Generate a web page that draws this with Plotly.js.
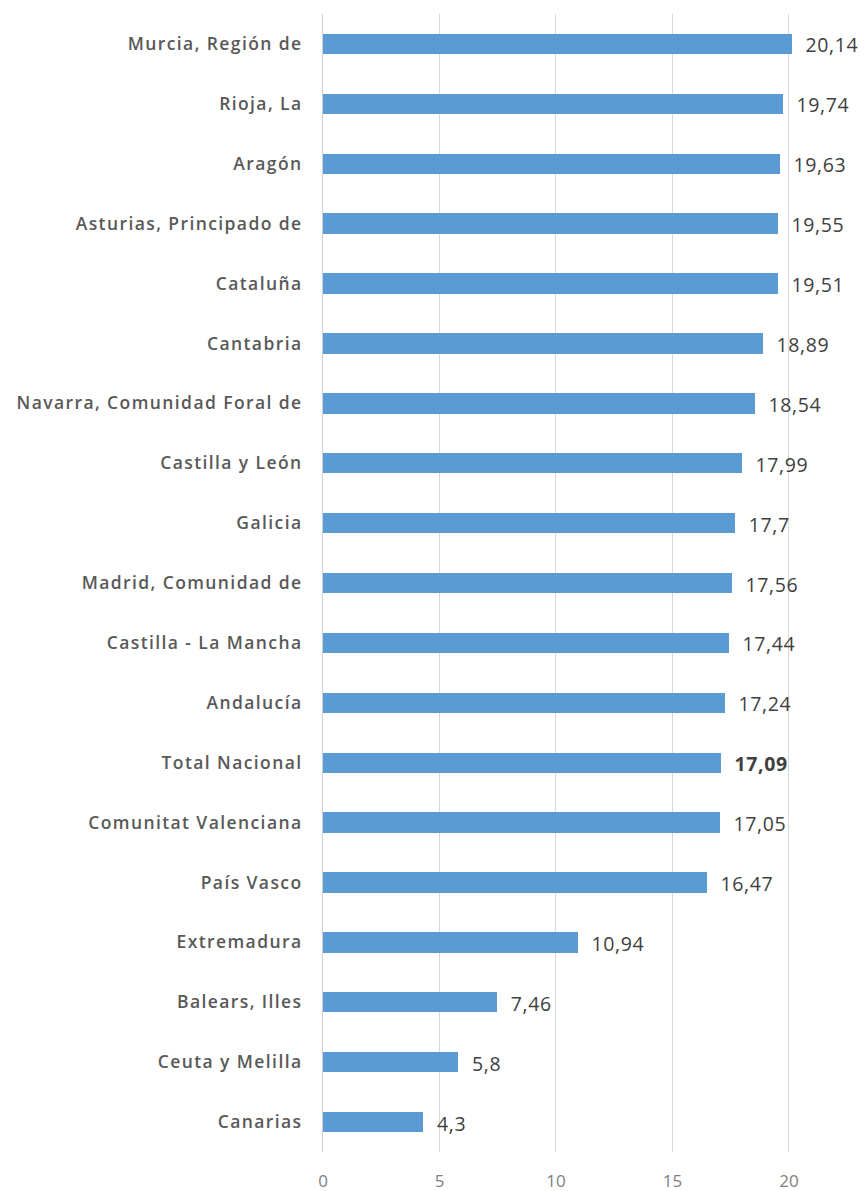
<!DOCTYPE html>
<html>
<head>
<meta charset="utf-8">
<script src="https://cdn.plot.ly/plotly-3.0.1.min.js"></script>
<style>
html,body{margin:0;padding:0;background:#fff;}
#chart{width:867px;height:1191px;}
#chart .ytick text{letter-spacing:1.4px;}
#chart .annotation-text{letter-spacing:0.6px;}
</style>
</head>
<body>
<div id="chart"></div>
<script>
const categories = ["Murcia, Región de","Rioja, La","Aragón","Asturias, Principado de","Cataluña","Cantabria","Navarra, Comunidad Foral de","Castilla y León","Galicia","Madrid, Comunidad de","Castilla - La Mancha","Andalucía","Total Nacional","Comunitat Valenciana","País Vasco","Extremadura","Balears, Illes","Ceuta y Melilla","Canarias"];
const values = [20.14,19.74,19.63,19.55,19.51,18.89,18.54,17.99,17.7,17.56,17.44,17.24,17.09,17.05,16.47,10.94,7.46,5.8,4.3];
const highlight = "Total Nacional";
const tickVals = [0,5,10,15,20];

const FONT = '"Open Sans", sans-serif';
const labels = values.map((v,i)=>{
  const s = String(v).replace('.',',');
  return categories[i]===highlight ? '<b>'+s+'</b>' : s;
});

const trace = {
  type:'bar', orientation:'h',
  x: values, y: categories,
  marker:{color:'#5B9BD5'},
  width:0.34,
  hoverinfo:'none'
};
const annotations = values.map((v,i)=>({
  x:v, y:categories[i], xref:'x', yref:'y',
  text:labels[i], showarrow:false, xanchor:'left', yanchor:'middle',
  xshift:13, yshift:-1,
  font:{family:FONT, size:19.5, color:'#404040'}
}));
const layout = {
  width:867, height:1191,
  margin:{l:323, r:0, t:14, b:39},
  paper_bgcolor:'#fff', plot_bgcolor:'#fff',
  showlegend:false,
  bargap:0,
  font:{family:FONT},
  annotations: annotations,
  xaxis:{range:[0,23.35], tickvals:tickVals, ticktext:tickVals.map(String),
    showgrid:true, gridcolor:'#d9d9d9', gridwidth:1, zeroline:false, showline:false,
    ticks:'', ticklabelstandoff:17,
    tickfont:{family:FONT, size:17, color:'#7f7f7f'}},
  yaxis:{autorange:'reversed', type:'category', showgrid:false, zeroline:false,
    showline:true, linecolor:'#d0d0d0', linewidth:1, ticks:'', ticklabelstandoff:16,
    tickfont:{family:FONT, size:17.5, color:'#595959', weight:600}}
};
Plotly.newPlot('chart',[trace],layout,{displayModeBar:false,staticPlot:true});
</script>
</body>
</html>
